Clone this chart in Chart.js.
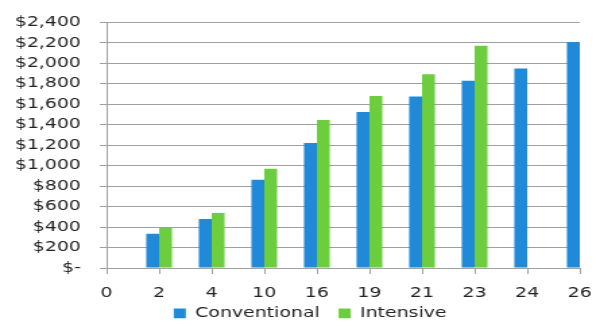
<!DOCTYPE html>
<html lang="en">
<head>
    <meta charset="UTF-8">
    <title>Conventional vs Intensive</title>
    <script src="https://cdn.jsdelivr.net/npm/chart.js"></script>
    <style>
        html, body { margin: 0; padding: 0; background: #fff; overflow: hidden; }
        /* the source picture is stretched sideways, so draw narrow and stretch */
        #wrap { width: 445px; height: 326px; transform: scaleX(1.34831); transform-origin: 0 0; }
    </style>
</head>
<body>
    <div id="wrap">
        <canvas id="myChart" width="445" height="326"></canvas>
    </div>

    <script>
        const categories = ['0', '2', '4', '10', '16', '19', '21', '23', '24', '26']
        const conventional = [null, 334, 478, 862, 1222, 1525, 1675, 1831, 1950, 2209]
        const intensive = [null, 394, 537, 969, 1447, 1681, 1894, 2172, null, null]
        const yMin = 0, yMax = 2400, yStep = 200

        const gridColor = '#a0a0a0'
        const textColor = '#222222'

        Chart.defaults.font.family = "'DejaVu Sans', Verdana, sans-serif"
        Chart.defaults.font.size = 14
        Chart.defaults.color = textColor

        const money = v => v === 0 ? '$-' : '$' + v.toLocaleString('en-US')

        // legend sits a bit right of the canvas middle and tucked up under the axis labels
        const nudgeLegend = {
            id: 'nudgeLegend',
            afterLayout(chart) {
                const lg = chart.legend
                lg.left += 15; lg.right += 15
                lg.top -= 7.5; lg.bottom -= 7.5
            }
        }

        var ctx = document.getElementById('myChart')
        var myChart = new Chart(ctx, {
            type: 'bar',
            data: {
                labels: categories,
                datasets: [{
                    label: 'Conventional',
                    data: conventional,
                    backgroundColor: '#2089d8',
                    borderWidth: 0
                }, {
                    label: 'Intensive',
                    data: intensive,
                    backgroundColor: '#6ccd3e',
                    borderWidth: 0
                }]
            },
            options: {
                responsive: false,
                animation: false,
                categoryPercentage: 0.49,
                barPercentage: 1,
                layout: { padding: { top: 12, right: 15, bottom: 0, left: 0 } },
                plugins: {
                    tooltip: { enabled: false },
                    legend: {
                        position: 'bottom',
                        maxHeight: 26,
                        labels: { boxWidth: 9, boxHeight: 10, padding: 14, color: textColor }
                    }
                },
                scales: {
                    x: {
                        offset: false,
                        grid: { offset: false, drawOnChartArea: false, drawTicks: true, tickLength: 6, color: gridColor },
                        border: { display: true, color: gridColor },
                        ticks: { autoSkip: false, maxRotation: 0, padding: 10.5, color: textColor },
                        afterFit: s => { s.height = 32; s.paddingRight = 9 }
                    },
                    y: {
                        min: yMin,
                        max: yMax,
                        grid: { color: gridColor, tickLength: 5, drawTicks: true },
                        border: { display: true, color: gridColor },
                        ticks: { stepSize: yStep, autoSkip: false, padding: 14, color: textColor, callback: v => money(v) },
                        afterFit: s => { s.width = 79 }
                    }
                }
            },
            plugins: [nudgeLegend]
        })
    </script>
</body>
</html>
